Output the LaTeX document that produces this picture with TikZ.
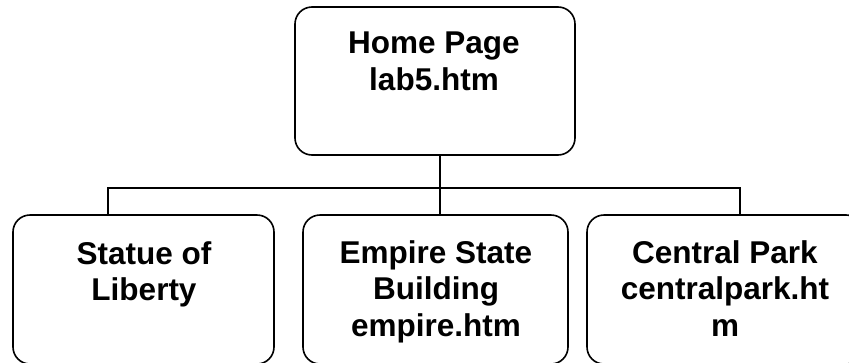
\documentclass[tikz,border=0pt]{standalone}
\usepackage{fontspec}
\setmainfont{Liberation Sans}
\begin{document}
\begin{tikzpicture}[x=1pt,y=-1pt,
  box/.style={draw, line width=1.6pt, rounded corners=17pt, inner sep=0pt, outer sep=0pt},
  txt/.style={align=center, inner sep=0pt, anchor=north, font=\bfseries\fontsize{31.5}{36.7}\selectfont},
  conn/.style={line width=1.6pt}]
\useasboundingbox (0,0) rectangle (849,362);
% boxes
\node[box, minimum width=280pt, minimum height=148pt] (home) at (435,81) {};
\node[box, minimum width=261pt, minimum height=149pt] (statue) at (143.5,289.5) {};
\node[box, minimum width=265pt, minimum height=149pt] (empire) at (435.5,289.5) {};
\node[box, minimum width=276pt, minimum height=149pt] (central) at (725,289.5) {};
% texts
\node[txt] (homet) at (434,32) {Home Page\\lab5.htm};
\node[txt] (statuet) at (144,241) {Statue of\\Liberty};
\node[txt] (empiret) at (436,240) {Empire State\\Building\\empire.htm};
\node[txt] (centralt) at (725,240) {Central Park\\centralpark.ht\\m};
% connectors
\coordinate (bus) at (440,188);
\draw[conn] (home.south -| bus) -- (bus);
\draw[conn] (statue.north -| 108,0) -- (108,188) -- (740,188) -- (central.north -| 740,0);
\draw[conn] (bus) -- (empire.north -| bus);
\end{tikzpicture}
\end{document}
